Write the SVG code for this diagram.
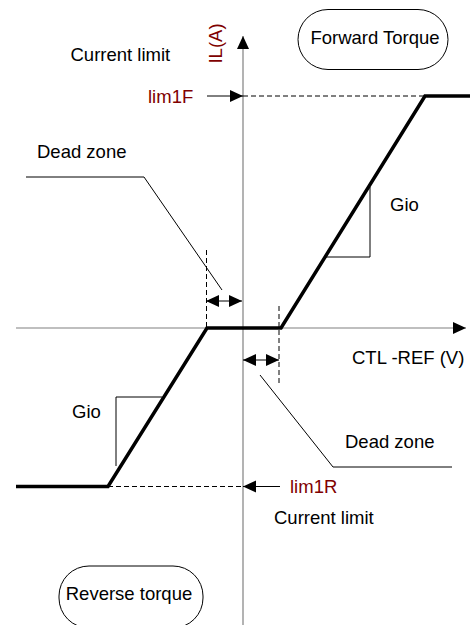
<svg xmlns="http://www.w3.org/2000/svg" width="470" height="625" viewBox="0 0 470 625">
<defs>
<style>
text{font-family:"Liberation Sans",Arial,sans-serif;font-size:18.5px;fill:#000}
.red{fill:#800000}
.axis{stroke:#808080;stroke-width:1.2;fill:none}
.thin{stroke:#000;stroke-width:1;fill:none}
.dash{stroke:#000;stroke-width:1;fill:none;stroke-dasharray:5,3}
.curve{stroke:#000;stroke-width:3.5;fill:none;stroke-linejoin:miter}
.pill{fill:#fff;stroke:#000;stroke-width:1}
</style>
<marker id="ah" markerUnits="userSpaceOnUse" markerWidth="14" markerHeight="14" viewBox="0 0 14 14" refX="13" refY="7" orient="auto-start-reverse">
<path d="M0,1 L13,7 L0,13 Z" fill="#000"/>
</marker>
</defs>
<g id="axes">
<line class="axis" x1="243" y1="625" x2="243" y2="36" marker-end="url(#ah)"/>
<line class="axis" x1="16" y1="328" x2="466" y2="328" marker-end="url(#ah)"/>
</g>
<g id="connectors">
<polyline class="curve" points="16,486.5 108,486.5 207,328 281,328 425,96 470,96"/>
<line class="dash" x1="243" y1="96" x2="425" y2="96"/>
<line class="dash" x1="108" y1="486.5" x2="243" y2="486.5"/>
<line class="thin" x1="207" y1="96" x2="243" y2="96" marker-end="url(#ah)"/>
<line class="thin" x1="280" y1="486.5" x2="243" y2="486.5" marker-end="url(#ah)"/>
<line class="dash" x1="206.5" y1="250" x2="206.5" y2="328"/>
<line class="dash" x1="279" y1="306" x2="279" y2="386"/>
<line class="thin" x1="206" y1="301" x2="242" y2="301" marker-start="url(#ah)" marker-end="url(#ah)"/>
<line class="thin" x1="243" y1="360" x2="279" y2="360" marker-start="url(#ah)" marker-end="url(#ah)"/>
<polyline class="thin" points="26,177 144,177 222,290"/>
<polyline class="thin" points="260,375 333,467 452,467"/>
<polyline class="thin" points="326,257 370,257 370,187"/>
<polyline class="thin" points="116,466 116,397 162,397"/>
</g>
<g id="forward-torque">
<rect class="pill" x="298" y="9.5" width="150" height="60" rx="30" ry="30"/>
<text x="375" y="44" text-anchor="middle">Forward Torque</text>
</g>
<g id="reverse-torque">
<rect class="pill" x="59" y="566" width="144" height="62" rx="30" ry="30"/>
<text x="129" y="600" text-anchor="middle">Reverse torque</text>
</g>
<g id="labels">
<text class="red" transform="translate(222,43.5) rotate(-90)" text-anchor="middle">IL(A)</text>
<text x="70.5" y="60.5">Current limit</text>
<text class="red" x="148" y="102.5">lim1F</text>
<text x="37" y="158">Dead zone</text>
<text x="390" y="211">Gio</text>
<text x="352" y="364">CTL -REF (V)</text>
<text x="72" y="417.5">Gio</text>
<text x="345" y="448">Dead zone</text>
<text class="red" x="290" y="493">lim1R</text>
<text x="274" y="523.5">Current limit</text>
</g>
</svg>
